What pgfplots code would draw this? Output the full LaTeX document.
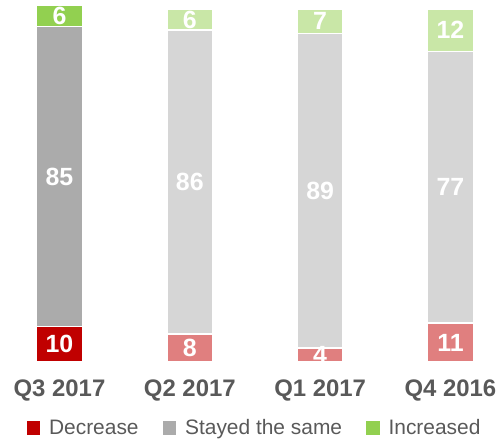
\documentclass[border=0pt]{standalone}
\usepackage{pgfplots}
\pgfplotsset{compat=1.18}
\usepackage{fontspec}
\setmainfont{Liberation Sans}
\definecolor{decD}{HTML}{C00000}
\definecolor{decL}{HTML}{E07F7F}
\definecolor{stayD}{HTML}{ABABAB}
\definecolor{stayL}{HTML}{D6D6D6}
\definecolor{incD}{HTML}{92D050}
\definecolor{incL}{HTML}{C9E7A7}
\definecolor{txt}{HTML}{595959}
\begin{document}
\begin{tikzpicture}
\useasboundingbox (0bp,0bp) rectangle (504bp,442bp);
\begin{axis}[at={(0bp,80bp)}, anchor=south west, scale only axis,
  width=504bp, height=353bp,
  xmin=-0.4566, xmax=3.411, ymin=0, ymax=100,
  clip=false,
  ybar stacked, bar width=46bp,
  axis line style={draw=none}, major tick length=0pt,
  ytick=\empty, xtick={0,1,2,3},
  xticklabels={Q3 2017, Q2 2017, Q1 2017, Q4 2016},
  xticklabel style={font=\fontsize{24}{28}\selectfont\bfseries, text=txt, anchor=base, yshift=-34bp},
  legend style={at={(0.505,-0.187)}, anchor=center, draw=none, fill=none,
    font=\fontsize{21}{25}\selectfont, text=txt,
    /tikz/every odd column/.append style={column sep=7bp},
    /tikz/every even column/.append style={column sep=22bp}},
  legend columns=3,
  every axis plot/.append style={draw=white, line width=1.5bp},
]
\addplot[fill=decD, legend image code/.code={\fill[decD] (0bp,-6bp) rectangle (12bp,6bp);}] coordinates {(0,10) (1,0) (2,0) (3,0)};
\addlegendentry{Decrease}
\addplot[fill=decL, forget plot] coordinates {(0,0) (1,8) (2,4) (3,11)};
\addplot[fill=stayD, legend image code/.code={\fill[stayD] (0bp,-6bp) rectangle (12bp,6bp);}] coordinates {(0,85) (1,0) (2,0) (3,0)};
\addlegendentry{Stayed the same}
\addplot[fill=stayL, forget plot] coordinates {(0,0) (1,86) (2,89) (3,77)};
\addplot[fill=incD, legend image code/.code={\fill[incD] (0bp,-6bp) rectangle (12bp,6bp);}] coordinates {(0,6) (1,0) (2,0) (3,0)};
\addlegendentry{Increased}
\addplot[fill=incL, forget plot] coordinates {(0,0) (1,6) (2,7) (3,12)};
\end{axis}
\begin{axis}[at={(0bp,80bp)}, anchor=south west, scale only axis,
  width=504bp, height=353bp,
  xmin=-0.4566, xmax=3.411, ymin=0, ymax=100,
  clip=false, hide axis]
\addplot[only marks, mark=none, nodes near coords, point meta=explicit symbolic,
  nodes near coords align=center,
  every node near coord/.append style={font=\fontsize{25}{30}\selectfont\bfseries, text=white, anchor=center}]
  table[meta=lab] {
x y lab
0 5 10
0 52.5 85
0 98 6
1 4 8
1 51 86
1 97 6
2 2 4
2 48.5 89
2 96.5 7
3 5.5 11
3 49.5 77
3 94 12
};
\end{axis}
\end{tikzpicture}
\end{document}
